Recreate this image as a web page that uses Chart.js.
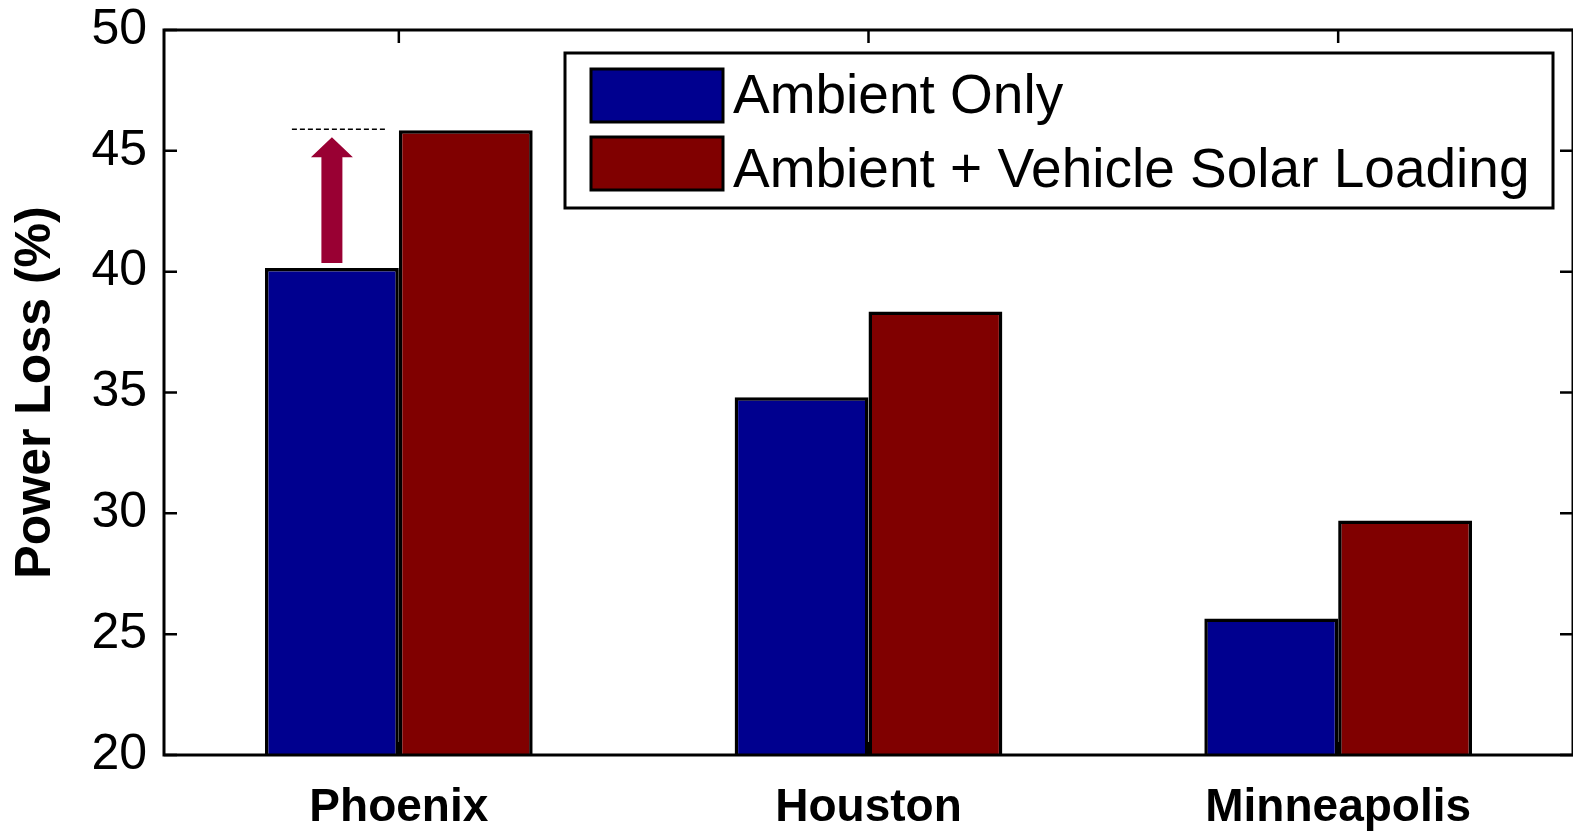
<!DOCTYPE html>
<html>
<head>
<meta charset="utf-8">
<script src="https://cdn.jsdelivr.net/npm/chart.js@4.4.1/dist/chart.umd.min.js"></script>
<style>
  html, body { margin: 0; padding: 0; background: #fff; }
  canvas { display: block; }
</style>
</head>
<body>
<canvas id="lossChart" width="1573" height="834"></canvas>
<script>
// chart values
const cities = ['Phoenix', 'Houston', 'Minneapolis'];
const ambientOnly = [40.15, 34.8, 25.65];
const ambientSolar = [45.85, 38.35, 29.7];
const seriesNames = ['Ambient Only', 'Ambient + Vehicle Solar Loading'];
const yTicks = [20, 25, 30, 35, 40, 45, 50];

const FONT = "'Liberation Sans', Arial, sans-serif";

// frame, inner ticks, legend box and the arrow annotation
const decorations = {
    id: 'decorations',
    afterDatasetsDraw(chart) {
        const { ctx, chartArea: a, scales: { x, y } } = chart;
        ctx.save();

        // frame
        ctx.strokeStyle = '#000';
        ctx.lineWidth = 3;
        ctx.strokeRect(a.left, a.top, a.right - a.left, a.bottom - a.top);

        // inner ticks
        ctx.lineWidth = 2.5;
        ctx.beginPath();
        yTicks.forEach(v => {
            const py = y.getPixelForValue(v);
            ctx.moveTo(a.left, py); ctx.lineTo(a.left + 13, py);
            ctx.moveTo(a.right, py); ctx.lineTo(a.right - 13, py);
        });
        cities.forEach((c, i) => {
            const px = x.getPixelForValue(i);
            ctx.moveTo(px, a.top); ctx.lineTo(px, a.top + 13);
            ctx.moveTo(px, a.bottom); ctx.lineTo(px, a.bottom - 13);
        });
        ctx.stroke();

        // arrow over Phoenix
        const bar = chart.getDatasetMeta(0).data[0];
        const yLow = y.getPixelForValue(ambientOnly[0]);
        const yHigh = y.getPixelForValue(ambientSolar[0]);
        ctx.setLineDash([5, 3]);
        ctx.lineWidth = 1.5;
        ctx.beginPath();
        ctx.moveTo(bar.x - 40, yHigh - 1);
        ctx.lineTo(bar.x + 54, yHigh - 1);
        ctx.stroke();
        ctx.setLineDash([]);

        const tip = yHigh + 7;
        const headBase = tip + 20;
        ctx.fillStyle = '#990033';
        ctx.beginPath();
        ctx.moveTo(bar.x, tip);
        ctx.lineTo(bar.x + 21, headBase);
        ctx.lineTo(bar.x + 10.5, headBase);
        ctx.lineTo(bar.x + 10.5, yLow - 5);
        ctx.lineTo(bar.x - 10.5, yLow - 5);
        ctx.lineTo(bar.x - 10.5, headBase);
        ctx.lineTo(bar.x - 21, headBase);
        ctx.closePath();
        ctx.fill();

        // legend
        ctx.fillStyle = '#fff';
        ctx.fillRect(565, 53, 988, 155);
        ctx.lineWidth = 3;
        ctx.strokeStyle = '#000';
        ctx.strokeRect(565, 53, 988, 155);
        ctx.font = '55px ' + FONT;
        ctx.textBaseline = 'alphabetic';
        chart.data.datasets.forEach((ds, i) => {
            const top = 69 + i * 68;
            ctx.fillStyle = ds.backgroundColor;
            ctx.fillRect(591, top, 132, 53);
            ctx.strokeRect(591, top, 132, 53);
            ctx.fillStyle = '#000';
            ctx.fillText(ds.label, 733, 113 + i * 74);
        });

        ctx.restore();
    }
};

new Chart(document.getElementById('lossChart'), {
    type: 'bar',
    data: {
        labels: cities,
        datasets: [
            { label: seriesNames[0], data: ambientOnly, backgroundColor: '#00008f' },
            { label: seriesNames[1], data: ambientSolar, backgroundColor: '#800000' }
        ]
    },
    options: {
        responsive: false,
        animation: false,
        devicePixelRatio: 1,
        layout: { padding: { top: 30, right: 0, left: 0, bottom: 0 } },
        datasets: {
            bar: {
                borderColor: '#000',
                borderWidth: 3.5,
                borderSkipped: false,
                categoryPercentage: 0.57,
                barPercentage: 1
            }
        },
        plugins: {
            legend: { display: false },
            tooltip: { enabled: false }
        },
        scales: {
            x: {
                grid: { display: false, drawTicks: false },
                border: { display: false },
                ticks: {
                    color: '#000',
                    padding: 26,
                    font: { family: FONT, size: 46, weight: 'bold' }
                },
                afterFit(s) {
                    s.height = 79;
                    s.paddingLeft = 0;
                    s.paddingRight = 0;
                }
            },
            y: {
                min: 20,
                max: 50,
                grid: { display: false, drawTicks: false },
                border: { display: false },
                ticks: {
                    stepSize: 5,
                    color: '#000',
                    padding: 17,
                    font: { family: FONT, size: 50 }
                },
                title: {
                    display: true,
                    text: 'Power Loss (%)',
                    color: '#000',
                    padding: { top: 6, bottom: 0 },
                    font: { family: FONT, size: 50, weight: 'bold' }
                },
                afterFit(s) {
                    s.width = 164;
                    s.paddingTop = 0;
                    s.paddingBottom = 0;
                }
            }
        }
    },
    plugins: [decorations]
});
</script>
</body>
</html>
